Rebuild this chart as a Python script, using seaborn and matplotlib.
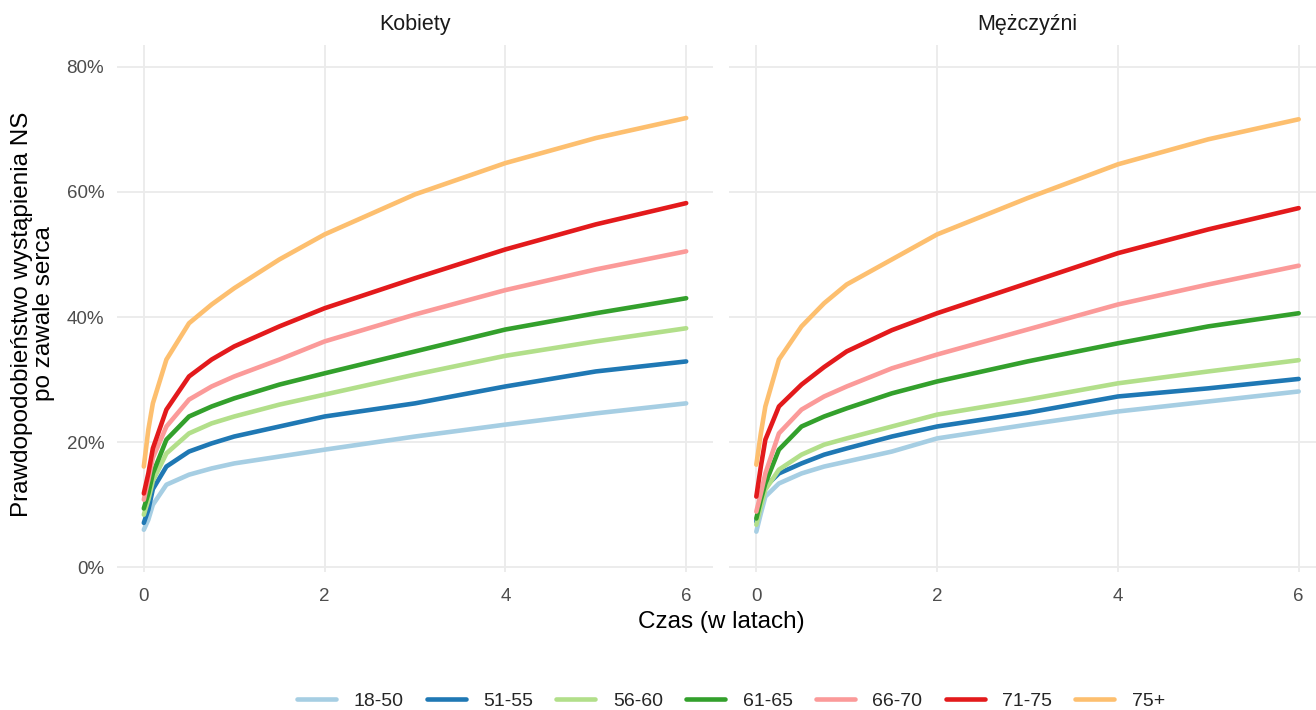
import numpy as np
import pandas as pd
import matplotlib
matplotlib.use("Agg")
import matplotlib.pyplot as plt
from matplotlib.ticker import FuncFormatter
import seaborn as sns

# Time points (years) and cumulative probabilities (%) per age group
czas = [0, 0.05, 0.1, 0.25, 0.5, 0.75, 1, 1.5, 2, 3, 4, 5, 6]
grupy = ["18-50", "51-55", "56-60", "61-65", "66-70", "71-75", "75+"]
panele = ["Kobiety", "Mężczyźni"]

kobiety_18_50 = [6.0, 7.6, 10.0, 13.2, 14.8, 15.8, 16.6, 17.7, 18.8, 20.9, 22.8, 24.6, 26.2]
kobiety_51_55 = [7.1, 9.2, 12.5, 16.1, 18.5, 19.8, 20.9, 22.5, 24.1, 26.2, 28.9, 31.3, 32.9]
kobiety_56_60 = [8.4, 10.8, 13.8, 18.2, 21.4, 23.0, 24.1, 26.0, 27.6, 30.8, 33.8, 36.1, 38.2]
kobiety_61_65 = [9.4, 11.8, 15.0, 20.4, 24.1, 25.7, 27.0, 29.2, 31.0, 34.5, 38.0, 40.6, 43.0]
kobiety_66_70 = [10.8, 14.0, 17.5, 22.5, 26.8, 28.9, 30.5, 33.2, 36.1, 40.4, 44.3, 47.6, 50.5]
kobiety_71_75 = [11.8, 15.0, 19.0, 25.2, 30.5, 33.2, 35.3, 38.5, 41.4, 46.2, 50.8, 54.8, 58.2]
kobiety_75p = [16.1, 22.0, 26.2, 33.2, 39.0, 42.0, 44.6, 49.2, 53.2, 59.6, 64.6, 68.6, 71.8]

mezczyzni_18_50 = [5.7, 8.6, 11.3, 13.4, 15.0, 16.1, 16.9, 18.5, 20.6, 22.8, 24.9, 26.5, 28.1]
mezczyzni_51_55 = [7.3, 10.0, 12.9, 15.0, 16.6, 18.0, 19.0, 20.9, 22.5, 24.7, 27.3, 28.6, 30.1]
mezczyzni_56_60 = [6.8, 9.7, 12.4, 15.6, 18.0, 19.6, 20.6, 22.5, 24.4, 26.8, 29.4, 31.3, 33.1]
mezczyzni_61_65 = [7.8, 10.8, 13.4, 18.8, 22.5, 24.1, 25.4, 27.8, 29.7, 32.9, 35.8, 38.5, 40.6]
mezczyzni_66_70 = [8.9, 11.8, 15.0, 21.4, 25.2, 27.3, 28.9, 31.8, 34.0, 38.0, 42.0, 45.2, 48.2]
mezczyzni_71_75 = [11.3, 16.1, 20.4, 25.7, 29.2, 32.0, 34.5, 37.9, 40.6, 45.4, 50.2, 54.0, 57.4]
mezczyzni_75p = [16.4, 21.4, 25.7, 33.2, 38.5, 42.2, 45.2, 49.2, 53.2, 59.0, 64.4, 68.4, 71.6]

x_ticks = [0, 2, 4, 6]
y_ticks = [0.0, 0.2, 0.4, 0.6, 0.8]

serie = {
    "Kobiety": [kobiety_18_50, kobiety_51_55, kobiety_56_60, kobiety_61_65,
                kobiety_66_70, kobiety_71_75, kobiety_75p],
    "Mężczyźni": [mezczyzni_18_50, mezczyzni_51_55, mezczyzni_56_60, mezczyzni_61_65,
                  mezczyzni_66_70, mezczyzni_71_75, mezczyzni_75p],
}

rows = []
for panel in panele:
    for grupa, vals in zip(grupy, serie[panel]):
        for t, v in zip(czas, vals):
            rows.append({"panel": panel, "grupa": grupa, "czas": t, "p": v / 100.0})
df = pd.DataFrame(rows)

sns.set_theme(style="white")
plt.rcParams["font.family"] = ["Liberation Sans", "DejaVu Sans"]

W, H = 1316, 710
fig = plt.figure(figsize=(W / 100, H / 100), dpi=100)

def px_axes(left, top, right, bottom):
    return [left / W, (H - bottom) / H, (right - left) / W, (bottom - top) / H]

axes = [fig.add_axes(px_axes(116.7, 45, 713.3, 572.3)),
        fig.add_axes(px_axes(729.2, 45, 1325.8, 572.3))]

palette = sns.color_palette("Paired", len(grupy))
grid_col = "#EBEBEB"

for i, (ax, panel) in enumerate(zip(axes, panele)):
    sub = df[df["panel"] == panel]
    sns.lineplot(data=sub, x="czas", y="p", hue="grupa", hue_order=grupy,
                 palette=palette, linewidth=3.3, ax=ax, legend=(i == 0),
                 estimator=None, sort=True)
    ax.set_xlim(-0.3, 6.3)
    ax.set_ylim(-0.008, 0.8347)
    ax.set_xticks(x_ticks)
    ax.set_yticks(y_ticks)
    ax.yaxis.set_major_formatter(FuncFormatter(lambda v, _: f"{v * 100:.0f}%"))
    ax.grid(True, color=grid_col, linewidth=1.3)
    ax.set_axisbelow(True)
    for s in ax.spines.values():
        s.set_visible(False)
    ax.tick_params(axis="both", length=0, labelsize=13.5, colors="#4D4D4D")
    ax.tick_params(axis="x", pad=11)
    ax.tick_params(axis="y", pad=9)
    ax.set_xlabel("")
    ax.set_ylabel("")
    if i == 1:
        ax.tick_params(axis="y", labelleft=False)
    ax.text(0.5, 1.0 + 20 / 527.3, panel, transform=ax.transAxes, ha="center",
            va="center", fontsize=15.5, color="#1A1A1A")

handles, labels = axes[0].get_legend_handles_labels()
axes[0].get_legend().remove()
for h in handles:
    h.set_linewidth(3.3)

fig.legend(handles, labels, loc="center", bbox_to_anchor=(731 / W, (H - 701) / H),
           ncol=len(grupy), frameon=False, fontsize=14, handlelength=2.0,
           handletextpad=0.9, columnspacing=1.2)

fig.text(721 / W, (H - 622) / H, "Czas (w latach)", ha="center", va="center",
         fontsize=17.5, color="black")
fig.text(33 / W, (H - 314) / H, "Prawdopodobieństwo wystąpienia NS\npo zawale serca",
         ha="center", va="center", rotation=90, fontsize=17.5, color="black",
         multialignment="center", linespacing=0.95)

fig.savefig("out.png", dpi=100, facecolor="white")
